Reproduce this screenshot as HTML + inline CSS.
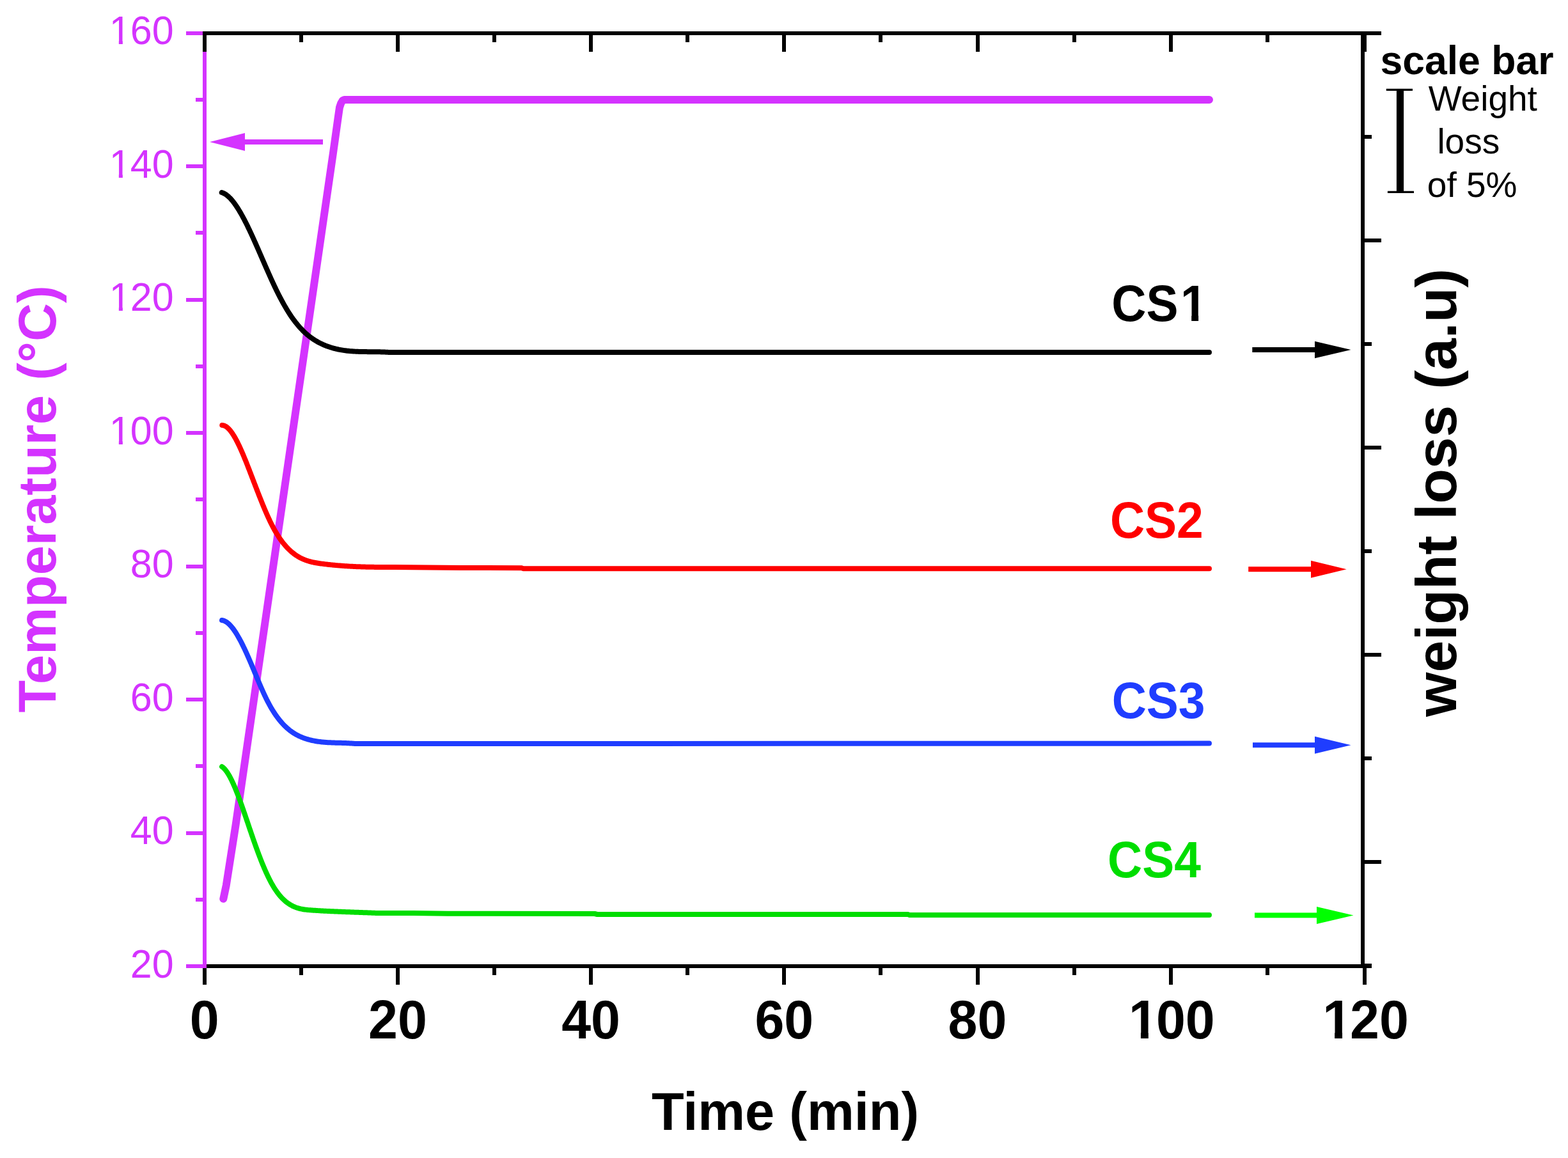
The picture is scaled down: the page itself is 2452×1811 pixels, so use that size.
<!DOCTYPE html>
<html><head><meta charset="utf-8"><title>Temperature and weight loss vs time</title>
<style>html,body{margin:0;padding:0;background:#fff;overflow:hidden;}svg{display:block;}</style></head><body>
<svg width="2452" height="1811" viewBox="0 0 2452 1811">
<rect x="0" y="0" width="2452" height="1811" fill="#fff"/>
<rect x="317" y="1508" width="1828" height="6" fill="#000"/>
<rect x="317" y="1514" width="6" height="26" fill="#000"/>
<rect x="468" y="1514" width="6" height="11" fill="#000"/>
<rect x="619" y="1514" width="6" height="26" fill="#000"/>
<rect x="770" y="1514" width="6" height="11" fill="#000"/>
<rect x="921" y="1514" width="6" height="26" fill="#000"/>
<rect x="1072" y="1514" width="6" height="11" fill="#000"/>
<rect x="1223" y="1514" width="6" height="26" fill="#000"/>
<rect x="1374" y="1514" width="6" height="11" fill="#000"/>
<rect x="1526" y="1514" width="6" height="26" fill="#000"/>
<rect x="1677" y="1514" width="6" height="11" fill="#000"/>
<rect x="1828" y="1514" width="6" height="26" fill="#000"/>
<rect x="1979" y="1514" width="6" height="11" fill="#000"/>
<rect x="2131" y="1514" width="6" height="26" fill="#000"/>
<rect x="2128" y="49" width="6" height="1465" fill="#000"/>
<rect x="2134" y="49" width="26" height="6" fill="#000"/>
<rect x="2134" y="211" width="11" height="6" fill="#000"/>
<rect x="2134" y="373" width="26" height="6" fill="#000"/>
<rect x="2134" y="535" width="11" height="6" fill="#000"/>
<rect x="2134" y="697" width="26" height="6" fill="#000"/>
<rect x="2134" y="859" width="11" height="6" fill="#000"/>
<rect x="2134" y="1021" width="26" height="6" fill="#000"/>
<rect x="2134" y="1183" width="11" height="6" fill="#000"/>
<rect x="2134" y="1345" width="26" height="6" fill="#000"/>
<rect x="2134" y="1507" width="11" height="6" fill="#000"/>
<rect x="317" y="49" width="6" height="1465" fill="#D433FF"/>
<rect x="291" y="1508" width="26" height="6" fill="#D433FF"/>
<rect x="306" y="1404" width="11" height="6" fill="#D433FF"/>
<rect x="291" y="1300" width="26" height="6" fill="#D433FF"/>
<rect x="306" y="1195" width="11" height="6" fill="#D433FF"/>
<rect x="291" y="1091" width="26" height="6" fill="#D433FF"/>
<rect x="306" y="987" width="11" height="6" fill="#D433FF"/>
<rect x="291" y="883" width="26" height="6" fill="#D433FF"/>
<rect x="306" y="778" width="11" height="6" fill="#D433FF"/>
<rect x="291" y="674" width="26" height="6" fill="#D433FF"/>
<rect x="306" y="570" width="11" height="6" fill="#D433FF"/>
<rect x="291" y="466" width="26" height="6" fill="#D433FF"/>
<rect x="306" y="361" width="11" height="6" fill="#D433FF"/>
<rect x="291" y="257" width="26" height="6" fill="#D433FF"/>
<rect x="306" y="153" width="11" height="6" fill="#D433FF"/>
<rect x="291" y="49" width="26" height="6" fill="#D433FF"/>
<rect x="317" y="49" width="1843" height="6" fill="#000"/>
<rect x="317" y="55" width="6" height="26" fill="#000"/>
<rect x="468" y="55" width="6" height="11" fill="#000"/>
<rect x="619" y="55" width="6" height="26" fill="#000"/>
<rect x="770" y="55" width="6" height="11" fill="#000"/>
<rect x="921" y="55" width="6" height="26" fill="#000"/>
<rect x="1072" y="55" width="6" height="11" fill="#000"/>
<rect x="1223" y="55" width="6" height="26" fill="#000"/>
<rect x="1374" y="55" width="6" height="11" fill="#000"/>
<rect x="1526" y="55" width="6" height="26" fill="#000"/>
<rect x="1677" y="55" width="6" height="11" fill="#000"/>
<rect x="1828" y="55" width="6" height="26" fill="#000"/>
<rect x="1979" y="55" width="6" height="11" fill="#000"/>
<rect x="2131" y="55" width="6" height="26" fill="#000"/>
<g font-family="Liberation Sans, Arial, sans-serif" font-size="61" fill="#D433FF" text-anchor="end">
<text transform="translate(271.6,1528.6) scale(1,1.025)">20</text>
<text transform="translate(271.6,1320.1) scale(1,1.025)">40</text>
<text transform="translate(271.6,1111.6) scale(1,1.025)">60</text>
<text transform="translate(271.6,903.2) scale(1,1.025)">80</text>
<g transform="translate(271.6,694.7) scale(1,1.025)"><text x="-101.78" text-anchor="start"><tspan dx="1">1</tspan><tspan dx="-1">00</tspan></text><rect x="-98.15" y="-5.46" width="12.38" height="6.46" fill="#fff"/><rect x="-79.73" y="-5.46" width="11.89" height="6.46" fill="#fff"/></g>
<g transform="translate(271.6,486.2) scale(1,1.025)"><text x="-101.78" text-anchor="start"><tspan dx="1">1</tspan><tspan dx="-1">20</tspan></text><rect x="-98.15" y="-5.46" width="12.38" height="6.46" fill="#fff"/><rect x="-79.73" y="-5.46" width="11.89" height="6.46" fill="#fff"/></g>
<g transform="translate(271.6,277.7) scale(1,1.025)"><text x="-101.78" text-anchor="start"><tspan dx="1">1</tspan><tspan dx="-1">40</tspan></text><rect x="-98.15" y="-5.46" width="12.38" height="6.46" fill="#fff"/><rect x="-79.73" y="-5.46" width="11.89" height="6.46" fill="#fff"/></g>
<g transform="translate(271.6,69.2) scale(1,1.025)"><text x="-101.78" text-anchor="start"><tspan dx="1">1</tspan><tspan dx="-1">60</tspan></text><rect x="-98.15" y="-5.46" width="12.38" height="6.46" fill="#fff"/><rect x="-79.73" y="-5.46" width="11.89" height="6.46" fill="#fff"/></g>
</g>
<g font-family="Liberation Sans, Arial, sans-serif" font-weight="bold" font-size="82.5" fill="#000" text-anchor="middle">
<text transform="translate(319.8,1624.4) scale(1,1.034)">0</text>
<text transform="translate(622.0,1624.4) scale(1,1.034)">20</text>
<text transform="translate(924.1,1624.4) scale(1,1.034)">40</text>
<text transform="translate(1226.3,1624.4) scale(1,1.034)">60</text>
<text transform="translate(1528.5,1624.4) scale(1,1.034)">80</text>
<g transform="translate(1830.8,1624.4) scale(1,1.034)"><text x="-68.82" text-anchor="start"><tspan dx="3">1</tspan><tspan dx="-3">00</tspan></text><rect x="-62.63" y="-10.00" width="15.76" height="11.00" fill="#fff"/><rect x="-34.96" y="-10.00" width="14.70" height="11.00" fill="#fff"/></g>
<g transform="translate(2134.0,1624.4) scale(1,1.034)"><text x="-68.82" text-anchor="start"><tspan dx="3">1</tspan><tspan dx="-3">20</tspan></text><rect x="-62.63" y="-10.00" width="15.76" height="11.00" fill="#fff"/><rect x="-34.96" y="-10.00" width="14.70" height="11.00" fill="#fff"/></g>
</g>
<g font-family="Liberation Sans, Arial, sans-serif" font-weight="bold">
<text x="1019" y="1766.8" font-size="83" fill="#000">Time (min)</text>
<text transform="translate(86.9,1114.5) rotate(-90)" font-size="83" fill="#D433FF">Temperature (°C)</text>
<text transform="translate(2277,1121) rotate(-90)" font-size="89.5" fill="#000">weight loss (a.u)</text>
</g>
<g fill="none" stroke-linecap="round" stroke-linejoin="round">
<path d="M349.3,1405.7 L353.8,1384.4 L368.6,1290.0 L521.0,239.0 L528.5,185.4 L531.0,168.0 L533.2,161.5 L535.8,157.2 L538.5,156.0 L1891.0,156.0" stroke="#D433FF" stroke-width="12"/>
<path d="M346.70,301.07 L348.20,301.56 L349.70,302.20 L350.70,302.70 L351.70,303.26 L352.70,303.88 L353.70,304.56 L354.70,305.30 L355.70,306.09 L356.70,306.94 L357.70,307.84 L358.70,308.79 L359.70,309.79 L360.70,310.85 L361.70,311.95 L362.70,313.11 L363.70,314.31 L364.70,315.56 L365.70,316.86 L366.70,318.20 L367.70,319.58 L368.70,321.01 L369.70,322.47 L370.70,323.98 L371.70,325.53 L372.70,327.12 L373.70,328.74 L374.70,330.40 L375.70,332.10 L376.70,333.83 L377.70,335.60 L378.70,337.40 L379.70,339.22 L380.70,341.08 L381.70,342.97 L382.70,344.89 L383.70,346.84 L384.70,348.81 L385.70,350.81 L386.20,351.81 L386.70,352.83 L387.20,353.85 L387.70,354.87 L388.20,355.91 L388.70,356.94 L389.20,357.98 L389.70,359.03 L390.20,360.08 L390.70,361.14 L391.20,362.20 L391.70,363.27 L392.20,364.34 L392.70,365.42 L393.20,366.50 L393.70,367.58 L394.20,368.67 L394.70,369.76 L395.20,370.86 L395.70,371.96 L396.20,373.06 L396.70,374.17 L397.20,375.28 L397.70,376.39 L398.20,377.51 L398.70,378.63 L399.20,379.75 L399.70,380.88 L400.20,382.00 L400.70,383.13 L401.20,384.27 L401.70,385.40 L402.20,386.54 L402.70,387.68 L403.20,388.82 L403.70,389.96 L404.20,391.10 L404.70,392.25 L405.20,393.39 L405.70,394.54 L406.20,395.69 L406.70,396.84 L407.20,397.99 L407.70,399.14 L408.20,400.29 L408.70,401.44 L409.20,402.59 L409.70,403.75 L410.20,404.90 L410.70,406.05 L411.20,407.20 L411.70,408.35 L412.20,409.50 L412.70,410.65 L413.20,411.80 L413.70,412.95 L414.20,414.10 L414.70,415.25 L415.20,416.39 L415.70,417.53 L416.20,418.68 L416.70,419.82 L417.20,420.96 L417.70,422.09 L418.20,423.23 L418.70,424.36 L419.20,425.49 L419.70,426.62 L420.20,427.75 L420.70,428.87 L421.20,429.99 L421.70,431.11 L422.20,432.22 L422.70,433.33 L423.20,434.44 L423.70,435.55 L424.20,436.65 L424.70,437.74 L425.20,438.84 L425.70,439.93 L426.20,441.01 L426.70,442.09 L427.20,443.17 L427.70,444.24 L428.20,445.31 L428.70,446.38 L429.20,447.43 L429.70,448.49 L430.20,449.54 L430.70,450.58 L431.20,451.62 L431.70,452.65 L432.20,453.68 L432.70,454.70 L433.20,455.72 L433.70,456.73 L434.20,457.73 L435.20,459.73 L436.20,461.70 L437.20,463.64 L438.20,465.57 L439.20,467.47 L440.20,469.34 L441.20,471.20 L442.20,473.02 L443.20,474.83 L444.20,476.61 L445.20,478.36 L446.20,480.09 L447.20,481.79 L448.20,483.47 L449.20,485.12 L450.20,486.74 L451.20,488.34 L452.20,489.91 L453.20,491.45 L454.20,492.97 L455.20,494.46 L456.20,495.92 L457.20,497.35 L458.20,498.75 L459.20,500.13 L460.20,501.47 L461.20,502.79 L462.20,504.09 L463.20,505.35 L464.20,506.59 L465.20,507.81 L466.20,508.99 L467.20,510.16 L468.20,511.29 L469.20,512.41 L470.20,513.49 L471.20,514.56 L472.20,515.60 L473.20,516.61 L474.20,517.61 L475.20,518.58 L476.20,519.53 L477.20,520.46 L478.20,521.36 L479.20,522.24 L480.20,523.11 L481.20,523.95 L482.20,524.77 L483.20,525.57 L484.20,526.36 L485.20,527.12 L486.20,527.86 L487.20,528.59 L488.20,529.30 L489.20,529.99 L490.20,530.66 L491.20,531.31 L492.20,531.95 L493.20,532.57 L494.20,533.18 L495.20,533.77 L496.20,534.34 L497.20,534.90 L498.20,535.44 L499.20,535.97 L500.20,536.49 L501.20,536.99 L502.70,537.71 L504.20,538.41 L505.70,539.08 L507.20,539.72 L508.70,540.34 L510.20,540.93 L511.70,541.50 L513.20,542.04 L514.70,542.56 L516.20,543.06 L517.70,543.53 L519.20,543.99 L520.70,544.42 L522.20,544.83 L523.70,545.21 L525.20,545.58 L526.70,545.93 L528.20,546.27 L529.70,546.58 L531.20,546.87 L532.70,547.15 L534.20,547.41 L535.70,547.66 L537.20,547.89 L538.70,548.10 L540.20,548.30 L541.70,548.49 L543.20,548.66 L544.70,548.82 L546.20,548.97 L547.70,549.11 L549.20,549.23 L550.70,549.34 L552.20,549.45 L553.70,549.54 L555.20,549.63 L556.70,549.70 L558.20,549.77 L559.70,549.83 L561.20,549.88 L562.70,549.93 L564.20,549.97 L565.70,550.00 L567.20,550.03 L568.70,550.06 L570.20,550.08 L571.70,550.10 L573.20,550.12 L574.70,550.13 L576.20,550.14 L577.70,550.15 L579.20,550.16 L580.70,550.17 L582.20,550.18 L583.70,550.19 L585.20,550.20 L586.70,550.22 L588.20,550.24 L589.70,550.26 L591.20,550.28 L592.70,550.31 L594.20,550.34 L595.70,550.38 L597.20,550.42 L598.70,550.47 L600.20,550.53 L601.70,550.59 L603.20,550.66 L604.70,550.74 L606.20,550.83 L607.40,550.91 L1000.00,551.00 L1891.00,551.00" stroke="#000" stroke-width="8"/>
<path d="M347.30,664.99 L348.80,665.15 L350.30,665.54 L351.80,666.16 L352.80,666.70 L353.80,667.34 L354.80,668.07 L355.80,668.89 L356.80,669.80 L357.80,670.80 L358.80,671.89 L359.80,673.05 L360.80,674.30 L361.80,675.63 L362.80,677.03 L363.80,678.50 L364.80,680.05 L365.80,681.66 L366.80,683.34 L367.80,685.09 L368.80,686.89 L369.80,688.76 L370.80,690.68 L371.80,692.66 L372.30,693.67 L372.80,694.69 L373.30,695.73 L373.80,696.77 L374.30,697.83 L374.80,698.90 L375.30,699.99 L375.80,701.08 L376.30,702.18 L376.80,703.30 L377.30,704.42 L377.80,705.56 L378.30,706.70 L378.80,707.86 L379.30,709.02 L379.80,710.19 L380.30,711.37 L380.80,712.56 L381.30,713.76 L381.80,714.96 L382.30,716.18 L382.80,717.40 L383.30,718.62 L383.80,719.85 L384.30,721.09 L384.80,722.34 L385.30,723.59 L385.80,724.84 L386.30,726.11 L386.80,727.37 L387.30,728.64 L387.80,729.92 L388.30,731.20 L388.80,732.48 L389.30,733.76 L389.80,735.05 L390.30,736.34 L390.80,737.64 L391.30,738.93 L391.80,740.23 L392.30,741.53 L392.80,742.83 L393.30,744.14 L393.80,745.44 L394.30,746.74 L394.80,748.05 L395.30,749.35 L395.80,750.66 L396.30,751.96 L396.80,753.27 L397.30,754.57 L397.80,755.88 L398.30,757.18 L398.80,758.48 L399.30,759.78 L399.80,761.08 L400.30,762.38 L400.80,763.68 L401.30,764.97 L401.80,766.26 L402.30,767.56 L402.80,768.84 L403.30,770.13 L403.80,771.41 L404.30,772.69 L404.80,773.97 L405.30,775.24 L405.80,776.51 L406.30,777.77 L406.80,779.04 L407.30,780.29 L407.80,781.55 L408.30,782.79 L408.80,784.04 L409.30,785.28 L409.80,786.51 L410.30,787.74 L410.80,788.96 L411.30,790.18 L411.80,791.39 L412.30,792.60 L412.80,793.80 L413.30,794.99 L413.80,796.18 L414.30,797.36 L414.80,798.53 L415.30,799.70 L415.80,800.86 L416.30,802.01 L416.80,803.15 L417.30,804.29 L417.80,805.42 L418.30,806.54 L418.80,807.65 L419.30,808.75 L419.80,809.85 L420.30,810.93 L420.80,812.01 L421.30,813.07 L421.80,814.13 L422.30,815.18 L422.80,816.21 L423.30,817.24 L423.80,818.26 L424.30,819.26 L425.30,821.25 L426.30,823.18 L427.30,825.08 L428.30,826.93 L429.30,828.73 L430.30,830.50 L431.30,832.22 L432.30,833.90 L433.30,835.55 L434.30,837.15 L435.30,838.71 L436.30,840.24 L437.30,841.72 L438.30,843.17 L439.30,844.58 L440.30,845.95 L441.30,847.29 L442.30,848.59 L443.30,849.86 L444.30,851.09 L445.30,852.29 L446.30,853.45 L447.30,854.58 L448.30,855.68 L449.30,856.75 L450.30,857.78 L451.30,858.78 L452.30,859.76 L453.30,860.70 L454.30,861.62 L455.30,862.50 L456.30,863.36 L457.30,864.19 L458.30,864.99 L459.30,865.77 L460.30,866.52 L461.30,867.24 L462.30,867.94 L463.30,868.62 L464.30,869.27 L465.30,869.89 L466.30,870.50 L467.30,871.08 L468.30,871.64 L469.30,872.18 L470.30,872.70 L471.80,873.44 L473.30,874.13 L474.80,874.79 L476.30,875.40 L477.80,875.98 L479.30,876.52 L480.80,877.02 L482.30,877.49 L483.80,877.93 L485.30,878.34 L486.80,878.73 L488.30,879.08 L489.80,879.42 L491.30,879.73 L492.80,880.02 L494.30,880.30 L495.80,880.55 L497.30,880.79 L498.80,881.02 L500.30,881.24 L501.80,881.45 L503.30,881.65 L504.80,881.84 L506.30,882.03 L507.80,882.22 L509.30,882.40 L510.80,882.57 L512.30,882.75 L513.80,882.92 L515.30,883.08 L516.80,883.24 L518.30,883.39 L519.80,883.55 L521.30,883.69 L522.80,883.84 L524.30,883.97 L525.80,884.11 L527.30,884.24 L528.80,884.37 L530.30,884.49 L531.80,884.61 L533.30,884.73 L534.80,884.84 L536.30,884.95 L537.80,885.06 L539.30,885.16 L540.80,885.26 L542.30,885.36 L543.80,885.45 L545.30,885.54 L546.80,885.62 L548.30,885.71 L549.80,885.79 L551.30,885.86 L552.80,885.94 L554.30,886.01 L555.80,886.08 L557.30,886.14 L558.80,886.20 L560.30,886.26 L561.80,886.32 L563.30,886.37 L564.80,886.42 L566.30,886.47 L567.80,886.52 L569.30,886.56 L570.80,886.60 L572.30,886.64 L573.80,886.67 L575.30,886.71 L576.80,886.74 L578.30,886.77 L579.80,886.79 L581.30,886.82 L582.80,886.84 L584.30,886.86 L585.80,886.88 L587.30,886.90 L588.80,886.91 L590.30,886.93 L591.80,886.94 L593.30,886.95 L594.80,886.95 L596.30,886.96 L597.80,886.97 L599.30,886.97 L600.80,886.97 L602.30,886.97 L603.80,886.97 L605.30,886.97 L606.80,886.96 L608.30,886.96 L609.80,886.95 L611.30,886.94 L612.80,886.93 L614.30,886.92 L615.80,886.91 L617.00,886.90 L719.50,887.90 L816.00,888.30 L818.00,889.20 L1891.00,889.20" stroke="#FF0000" stroke-width="8"/>
<path d="M347.00,970.00 L348.50,970.27 L350.00,970.71 L351.50,971.34 L352.50,971.84 L353.50,972.43 L354.50,973.08 L355.50,973.81 L356.50,974.60 L357.50,975.47 L358.50,976.40 L359.50,977.40 L360.50,978.46 L361.50,979.58 L362.50,980.77 L363.50,982.01 L364.50,983.31 L365.50,984.67 L366.50,986.08 L367.50,987.55 L368.50,989.07 L369.50,990.65 L370.50,992.27 L371.50,993.94 L372.50,995.65 L373.50,997.41 L374.50,999.22 L375.50,1001.07 L376.50,1002.95 L377.50,1004.88 L378.50,1006.85 L379.50,1008.85 L380.00,1009.87 L380.50,1010.89 L381.00,1011.92 L381.50,1012.96 L382.00,1014.01 L382.50,1015.06 L383.00,1016.13 L383.50,1017.20 L384.00,1018.28 L384.50,1019.36 L385.00,1020.46 L385.50,1021.55 L386.00,1022.66 L386.50,1023.77 L387.00,1024.89 L387.50,1026.02 L388.00,1027.15 L388.50,1028.28 L389.00,1029.43 L389.50,1030.57 L390.00,1031.73 L390.50,1032.88 L391.00,1034.05 L391.50,1035.21 L392.00,1036.38 L392.50,1037.56 L393.00,1038.74 L393.50,1039.92 L394.00,1041.11 L394.50,1042.30 L395.00,1043.49 L395.50,1044.68 L396.00,1045.88 L396.50,1047.08 L397.00,1048.28 L397.50,1049.48 L398.00,1050.68 L398.50,1051.88 L399.00,1053.08 L399.50,1054.28 L400.00,1055.48 L400.50,1056.68 L401.00,1057.88 L401.50,1059.08 L402.00,1060.28 L402.50,1061.47 L403.00,1062.66 L403.50,1063.85 L404.00,1065.04 L404.50,1066.22 L405.00,1067.40 L405.50,1068.58 L406.00,1069.75 L406.50,1070.92 L407.00,1072.08 L407.50,1073.24 L408.00,1074.40 L408.50,1075.54 L409.00,1076.69 L409.50,1077.82 L410.00,1078.95 L410.50,1080.07 L411.00,1081.19 L411.50,1082.30 L412.00,1083.40 L412.50,1084.49 L413.00,1085.57 L413.50,1086.65 L414.00,1087.71 L414.50,1088.77 L415.00,1089.82 L415.50,1090.86 L416.00,1091.88 L416.50,1092.90 L417.00,1093.91 L418.00,1095.89 L419.00,1097.83 L420.00,1099.72 L421.00,1101.58 L422.00,1103.39 L423.00,1105.16 L424.00,1106.90 L425.00,1108.59 L426.00,1110.24 L427.00,1111.86 L428.00,1113.44 L429.00,1114.98 L430.00,1116.48 L431.00,1117.95 L432.00,1119.38 L433.00,1120.77 L434.00,1122.13 L435.00,1123.46 L436.00,1124.75 L437.00,1126.01 L438.00,1127.24 L439.00,1128.43 L440.00,1129.59 L441.00,1130.72 L442.00,1131.82 L443.00,1132.89 L444.00,1133.93 L445.00,1134.94 L446.00,1135.92 L447.00,1136.87 L448.00,1137.80 L449.00,1138.70 L450.00,1139.57 L451.00,1140.41 L452.00,1141.23 L453.00,1142.03 L454.00,1142.80 L455.00,1143.54 L456.00,1144.27 L457.00,1144.97 L458.00,1145.64 L459.00,1146.30 L460.00,1146.93 L461.00,1147.54 L462.00,1148.13 L463.00,1148.71 L464.00,1149.26 L465.00,1149.79 L466.00,1150.31 L467.50,1151.05 L469.00,1151.75 L470.50,1152.41 L472.00,1153.04 L473.50,1153.63 L475.00,1154.20 L476.50,1154.73 L478.00,1155.24 L479.50,1155.72 L481.00,1156.17 L482.50,1156.60 L484.00,1157.01 L485.50,1157.39 L487.00,1157.75 L488.50,1158.08 L490.00,1158.40 L491.50,1158.70 L493.00,1158.97 L494.50,1159.23 L496.00,1159.47 L497.50,1159.69 L499.00,1159.90 L500.50,1160.09 L502.00,1160.27 L503.50,1160.43 L505.00,1160.58 L506.50,1160.71 L508.00,1160.84 L509.50,1160.95 L511.00,1161.05 L512.50,1161.15 L514.00,1161.23 L515.50,1161.31 L517.00,1161.37 L518.50,1161.44 L520.00,1161.49 L521.50,1161.54 L523.00,1161.59 L524.50,1161.63 L526.00,1161.68 L527.50,1161.71 L529.00,1161.75 L530.50,1161.79 L532.00,1161.83 L533.50,1161.87 L535.00,1161.91 L536.50,1161.95 L538.00,1162.00 L539.50,1162.05 L541.00,1162.10 L542.50,1162.17 L544.00,1162.23 L545.50,1162.31 L547.00,1162.39 L548.50,1162.48 L550.00,1162.58 L551.50,1162.70 L553.00,1162.82 L554.50,1162.95 L555.00,1163.00 L719.50,1163.00 L1891.00,1162.60" stroke="#1F3DFF" stroke-width="8"/>
<path d="M347.00,1198.98 L348.00,1199.67 L349.00,1200.47 L350.00,1201.38 L351.00,1202.40 L352.00,1203.52 L353.00,1204.75 L354.00,1206.07 L355.00,1207.49 L356.00,1209.00 L357.00,1210.60 L358.00,1212.28 L359.00,1214.05 L360.00,1215.90 L361.00,1217.83 L362.00,1219.83 L362.50,1220.86 L363.00,1221.91 L363.50,1222.97 L364.00,1224.05 L364.50,1225.15 L365.00,1226.26 L365.50,1227.39 L366.00,1228.53 L366.50,1229.69 L367.00,1230.87 L367.50,1232.06 L368.00,1233.26 L368.50,1234.48 L369.00,1235.71 L369.50,1236.95 L370.00,1238.21 L370.50,1239.47 L371.00,1240.75 L371.50,1242.04 L372.00,1243.35 L372.50,1244.66 L373.00,1245.98 L373.50,1247.32 L374.00,1248.66 L374.50,1250.01 L375.00,1251.37 L375.50,1252.74 L376.00,1254.12 L376.50,1255.51 L377.00,1256.90 L377.50,1258.30 L378.00,1259.71 L378.50,1261.12 L379.00,1262.54 L379.50,1263.97 L380.00,1265.40 L380.50,1266.84 L381.00,1268.28 L381.50,1269.72 L382.00,1271.17 L382.50,1272.63 L383.00,1274.08 L383.50,1275.54 L384.00,1277.01 L384.50,1278.47 L385.00,1279.94 L385.50,1281.41 L386.00,1282.88 L386.50,1284.36 L387.00,1285.83 L387.50,1287.30 L388.00,1288.78 L388.50,1290.26 L389.00,1291.73 L389.50,1293.21 L390.00,1294.68 L390.50,1296.16 L391.00,1297.63 L391.50,1299.10 L392.00,1300.57 L392.50,1302.03 L393.00,1303.50 L393.50,1304.96 L394.00,1306.42 L394.50,1307.87 L395.00,1309.32 L395.50,1310.77 L396.00,1312.21 L396.50,1313.65 L397.00,1315.08 L397.50,1316.51 L398.00,1317.93 L398.50,1319.35 L399.00,1320.76 L399.50,1322.16 L400.00,1323.56 L400.50,1324.95 L401.00,1326.34 L401.50,1327.71 L402.00,1329.08 L402.50,1330.44 L403.00,1331.80 L403.50,1333.15 L404.00,1334.48 L404.50,1335.82 L405.00,1337.14 L405.50,1338.46 L406.00,1339.76 L406.50,1341.06 L407.00,1342.35 L407.50,1343.64 L408.00,1344.91 L408.50,1346.17 L409.00,1347.43 L409.50,1348.68 L410.00,1349.91 L410.50,1351.14 L411.00,1352.36 L411.50,1353.57 L412.00,1354.77 L412.50,1355.96 L413.00,1357.14 L413.50,1358.30 L414.00,1359.46 L414.50,1360.61 L415.00,1361.75 L415.50,1362.88 L416.00,1363.99 L416.50,1365.10 L417.00,1366.19 L417.50,1367.27 L418.00,1368.35 L418.50,1369.41 L419.00,1370.45 L419.50,1371.49 L420.00,1372.52 L420.50,1373.53 L421.00,1374.53 L422.00,1376.49 L423.00,1378.41 L424.00,1380.27 L425.00,1382.08 L426.00,1383.84 L427.00,1385.55 L428.00,1387.20 L429.00,1388.81 L430.00,1390.36 L431.00,1391.87 L432.00,1393.33 L433.00,1394.74 L434.00,1396.11 L435.00,1397.43 L436.00,1398.70 L437.00,1399.93 L438.00,1401.12 L439.00,1402.27 L440.00,1403.37 L441.00,1404.44 L442.00,1405.46 L443.00,1406.45 L444.00,1407.39 L445.00,1408.30 L446.00,1409.17 L447.00,1410.01 L448.00,1410.81 L449.00,1411.58 L450.00,1412.32 L451.00,1413.02 L452.00,1413.69 L453.00,1414.33 L454.00,1414.94 L455.00,1415.52 L456.00,1416.07 L457.00,1416.59 L458.50,1417.33 L460.00,1418.00 L461.50,1418.63 L463.00,1419.20 L464.50,1419.72 L466.00,1420.19 L467.50,1420.62 L469.00,1421.01 L470.50,1421.37 L472.00,1421.68 L473.50,1421.96 L475.00,1422.21 L476.50,1422.44 L478.00,1422.64 L479.50,1422.81 L481.00,1422.97 L482.50,1423.11 L484.00,1423.24 L485.50,1423.36 L487.00,1423.46 L488.50,1423.57 L490.00,1423.67 L491.50,1423.76 L493.00,1423.86 L494.50,1423.95 L496.00,1424.04 L497.50,1424.13 L499.00,1424.22 L500.50,1424.31 L502.00,1424.39 L503.50,1424.47 L505.00,1424.56 L506.50,1424.64 L508.00,1424.71 L509.50,1424.79 L511.00,1424.87 L512.50,1424.94 L514.00,1425.01 L515.50,1425.08 L517.00,1425.15 L518.50,1425.22 L520.00,1425.29 L521.50,1425.36 L523.00,1425.42 L524.50,1425.49 L526.00,1425.55 L527.50,1425.62 L529.00,1425.68 L530.50,1425.74 L532.00,1425.80 L533.50,1425.86 L535.00,1425.92 L536.50,1425.98 L538.00,1426.04 L539.50,1426.09 L541.00,1426.15 L542.50,1426.21 L544.00,1426.26 L545.50,1426.32 L547.00,1426.37 L548.50,1426.43 L550.00,1426.48 L551.50,1426.54 L553.00,1426.59 L554.50,1426.65 L556.00,1426.70 L557.50,1426.76 L559.00,1426.81 L560.50,1426.87 L562.00,1426.92 L563.50,1426.97 L565.00,1427.03 L566.50,1427.08 L568.00,1427.14 L569.50,1427.20 L571.00,1427.25 L572.50,1427.31 L574.00,1427.37 L575.50,1427.42 L577.00,1427.48 L578.50,1427.54 L580.00,1427.60 L581.50,1427.66 L583.00,1427.72 L584.50,1427.78 L586.00,1427.85 L587.30,1427.90 L646.30,1427.90 L700.00,1428.70 L930.00,1429.00 L934.00,1430.00 L1420.00,1430.00 L1422.00,1431.00 L1891.00,1431.00" stroke="#00DD00" stroke-width="8"/>
</g>
<rect x="382" y="218" width="123" height="8" fill="#D433FF"/>
<polygon points="383,208 328,222 383,236" fill="#D433FF"/>
<rect x="1958.3" y="543.0" width="98.7" height="8" fill="#000"/><polygon points="2056,533.7 2112.5,547.0 2056,560.3" fill="#000"/>
<rect x="1952.2" y="886.2" width="98.8" height="8" fill="#FF0000"/><polygon points="2050,876.7 2105.7,890.2 2050,903.7" fill="#FF0000"/>
<rect x="1959" y="1161.2" width="98.0" height="8" fill="#1F3DFF"/><polygon points="2056,1151.7 2112.5,1165.2 2056,1178.7" fill="#1F3DFF"/>
<rect x="1962" y="1427.4" width="98.0" height="8" fill="#00FF00"/><polygon points="2059,1417.9 2116.5,1431.4 2059,1444.9" fill="#00FF00"/>
<g font-family="Liberation Sans, Arial, sans-serif" font-weight="bold" font-size="75">
<g transform="translate(1738.3,502.4) scale(1,1.067)"><text fill="#000">CS<tspan dx="3.5">1</tspan></text><rect x="110.44" y="-9.00" width="14.45" height="10.00" fill="#fff"/><rect x="135.80" y="-9.00" width="13.52" height="10.00" fill="#fff"/></g>
<text transform="translate(1735.9,841.4) scale(1,1.072)" fill="#FF0000">CS2</text>
<text transform="translate(1738.7,1122.9) scale(1,1.068)" fill="#1F3DFF">CS3</text>
<text transform="translate(1732,1372.4) scale(1,1.067)" fill="#00DD00">CS4</text>
</g>
<text transform="translate(2158.5,116.3) scale(1.008,1.03)" font-family="Liberation Sans, Arial, sans-serif" font-weight="bold" font-size="62" fill="#000">scale bar</text>
<path d="M2167.8,138.8 H2209 V142 H2195.1 V298.8 H2211 V302 H2169.9 V298.8 H2183.9 V142 H2167.8 Z" fill="#000"/>
<g font-family="Liberation Sans, Arial, sans-serif" font-size="55" fill="#000">
<text x="2233.7" y="173.3">Weight</text>
<text x="2247.4" y="239.7">loss</text>
<text x="2231.8" y="307.9">of 5%</text>
</g>
</svg>
</body></html>
